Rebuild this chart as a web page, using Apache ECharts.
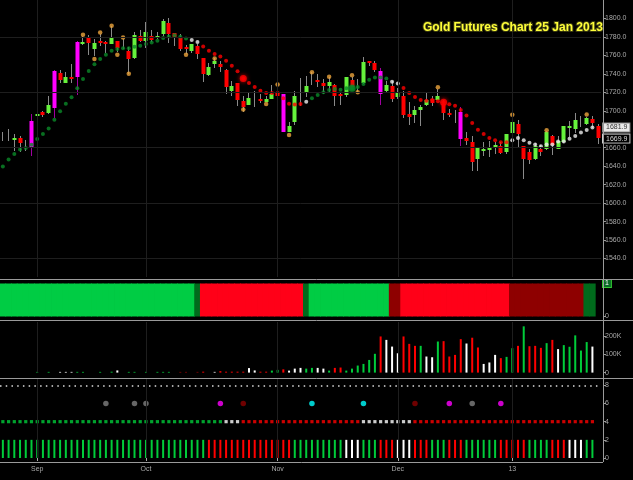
<!DOCTYPE html>
<html><head><meta charset="utf-8">
<script src="https://cdn.jsdelivr.net/npm/echarts@6/dist/echarts.min.js"></script>
<style>html,body{margin:0;padding:0;background:#000}#c{width:633px;height:480px}</style>
</head><body><div id="c"></div>
<script>
// ---------- DATA ----------
const monthTickIndex = [6, 25, 48, 69, 89];
const monthTickLabel = ['Sep', 'Oct', 'Nov', 'Dec', '13'];

const priceOpen = [1672,1673,1670.5,1670.6,1662,1660,1696.5,1699,1697.6,1702.7,
1741,1731,1737,1736,1774.5,1780,1767,1775.5,1774.5,1772.3,
1776,1771,1765,1757,1781.3,1775,1781.3,1778.7,1783.6,1794.6,
1783.8,1779.5,1768.6,1764.3,1770.5,1756.8,1738.7,1751.4,1750.6,1744.1,
1721.4,1729.7,1710.3,1706.3,1715,1713,1709.2,1712.8,1720.7,1718.2,
1677.6,1688.3,1713,1719.3,1730,1733.7,1729.7,1727.2,1728,1717.8,
1716.4,1733.7,1727,1730,1753.5,1751.7,1743.4,1721.8,1727.2,1715.3,
1716.4,1696.6,1695.5,1700.9,1706.3,1712.8,1711.7,1707.4,1698,1700,
1699.1,1670.3,1666.7,1648,1657.8,1657.3,1659.5,1662.3,1655,1676.7,
1685.8,1662.3,1655.1,1647.2,1658.7,1658.7,1673.1,1659.5,1666,1682,
1680.4,1689,1685.8,1691.2,1683.2];
const priceHigh = [1677,1680,1675,1673,1668,1697,1703,1700,1716,1744,
1744.5,1741.6,1750.6,1776,1781.3,1782,1777.7,1783,1776,1791.4,
1776,1778,1768.7,1785,1787.8,1795.7,1787.8,1785.6,1799.3,1801,
1784.5,1783,1771,1772.5,1772,1756.8,1751.7,1757,1754,1745,
1732.6,1729.7,1716.4,1719.3,1721.8,1718.2,1716.4,1728,1725.4,1718.2,
1688.3,1721.8,1735,1738,1741.6,1740,1734.4,1736.2,1729,1719.3,
1736.2,1737,1734.4,1757.8,1753.5,1754.2,1746,1732.6,1732.6,1724.3,
1721,1709,1705.6,1706.7,1718.9,1716.4,1723.6,1711.7,1702,1701.3,
1703.8,1677.5,1673.1,1660.5,1666.7,1667.7,1666,1666,1675,1688.3,
1690.4,1662.3,1658.7,1664.9,1663.1,1678.6,1673.8,1673.1,1683.2,1689.4,
1697.6,1694.8,1693.7,1694.8,1685.8];
const priceLow = [1667,1667,1656,1655,1656,1651,1691,1693.7,1697,1692,
1729.7,1730,1730,1717,1771,1760.4,1759.6,1769.7,1763,1772,
1763.2,1767,1740,1756,1774,1767.6,1774.8,1777.7,1781,1773,
1770.5,1765,1761,1762.5,1756,1731,1738,1746,1741.6,1718.2,
1716.4,1705.6,1699.1,1706,1703.8,1708.1,1709,1712.8,1716.4,1676.7,
1677,1685,1705.6,1714.6,1728,1726.1,1718.2,1720,1705.6,1706.3,
1714.6,1726.5,1719.3,1729,1748.8,1742.3,1706.7,1719.3,1709.2,1712.8,
1692.3,1685,1686.8,1684,1705.6,1705.6,1711.7,1690,1693,1687,
1661.6,1662.5,1634.6,1634.6,1651.5,1649.7,1653.3,1653.3,1653.3,1676,
1660.5,1625.6,1642.5,1647,1651.5,1658,1652.2,1658.7,1665.2,1671.3,
1676,1682.2,1685,1681,1664.1];
const priceClose = [1672,1673,1671,1665,1662,1689,1697,1695.5,1706.7,1742.7,
1733.7,1737,1736.5,1774,1775,1773.3,1773,1775,1774,1779.5,
1768.7,1771,1756,1782,1775.9,1785,1776.6,1781.3,1797.5,1783.1,
1778.8,1766.9,1768.1,1772.3,1762.2,1739.9,1747.7,1754.2,1747,1726.1,
1727.2,1711.7,1703.8,1713.5,1715,1712.4,1712.8,1718.2,1716.4,1676.7,
1684,1716.4,1713,1727.2,1730,1733.4,1726.8,1731.5,1715.7,1717.5,
1736.2,1726.5,1727,1753.2,1753,1744.5,1718.2,1728.3,1712.8,1719.3,
1695.5,1693.7,1700.9,1704.5,1711.7,1708.1,1716.4,1697.3,1697.6,1700,
1669.5,1666.7,1645.4,1659.5,1658.3,1659.5,1663,1655.1,1675,1688.3,
1675,1648.6,1646.1,1661.6,1655.1,1676.7,1663.1,1667.7,1683.2,1684,
1690,1689,1691.9,1686.8,1669.9];
const wideRangeBars = [5, 9, 13, 49, 66, 80];

// trailing stop dots (g = green below, r = red above, w = white)
const stopValues = [1639.6,1647.2,1653.3,1658.0,1659.8,1663.1,1669.5,1675.0,1680.7,1690.4,
1699.5,1707.7,1714.6,1724.3,1734.4,1743.1,1750.5,1756.0,1760.6,1765.0,
1766.8,1767.8,1767.8,1769.5,1770.5,1772.3,1774.1,1775.9,1778.8,1780.6,
1781.7,1780.2,1778.4,1776.6,1774.4,1769.7,1765.0,1761.4,1758.9,1754.2,
1748.8,1742.7,1735.1,1730.1,1725.8,1721.8,1719.3,1719.3,1719.3,1713.5,
1707.7,1706.7,1707.4,1709.9,1713.5,1717.1,1720.0,1722.5,1723.6,1722.9,
1724.3,1724.3,1725.8,1729.0,1733.7,1736.2,1736.2,1735.1,1731.5,1729.7,
1724.7,1719.3,1714.9,1711.7,1711.0,1711.7,1710.3,1709.2,1707.0,1705.6,
1700.9,1694.8,1686.8,1679.6,1675.0,1670.6,1668.1,1666.0,1666.0,1668.1,
1670.6,1668.1,1665.3,1663.5,1661.7,1663.5,1663.5,1666.7,1666.7,1669.6,
1672.8,1676.4,1679.3,1681.9];
const stopStateRuns = [['g',33],['w',2],['r',18],['w',1],['g',14],['w',2],['r',19],['w',15]];
const bigStopIndex = [42, 61, 77];

// swing markers (orange)
const swingIndex = [14,16,17,19,20,21,22,32,37,42,46,48,50,54,57,61,62,76,89,95,102];
const swingValue = [1782.3,1756,1784.7,1792.1,1760.6,1779.5,1740,1760.8,1756.6,1701.4,1707.5,1728.5,1673.8,1741.8,1737,1738.4,1720.2,1725.4,1695.6,1679,1696];

// trend band panel
const bandRuns = [['G',34],['g',1],['R',18],['g',1],['G',14],['r',2],['R',19],['r',13],['g',2]];

// volume (thousands of contracts)
const volumeK = [0,0,0,0,0,0,4,0,4,0,
4,4,4,4,4,0,0,4,0,5,
12,0,4,4,0,4,0,4,4,4,
0,4,4,0,4,5,0,4,8,5,
5,5,5,25,12,5,5,11,15,18,
11,22,26,22,26,26,22,11,26,28,
11,22,39,48,70,104,200,181,144,107,
200,159,148,148,89,85,172,174,89,98,
185,161,193,139,48,56,98,80,87,135,
148,256,146,148,137,163,181,130,152,143,
206,122,169,144];
const volumeColor = 'gggggggggg'+'wwwggggggg'+'wggggggggg'+'gRRgRrgwrr'+'rrrwwrrggr'+
  'wwwggwwgrr'+'ggggggrwww'+'rrrgwwgrrr'+'rwrrwwwrgg'+'rgrrrgrwgg'+'gggw';

// bottom indicator panel
const thresholdLevel = 8;
const signalLevel = 6;
const stateLevel = 4;
const histLevel = 2;
const signalIndex = [18,23,25,38,42,54,63,72,78,82,87];
const signalColorName = ['gray','gray','gray','magenta','darkred','cyan','cyan','darkred','magenta','gray','magenta'];
const stateDotRuns = [['G',39],['W',3],['R',21],['W',9],['R',32]];
const histRuns = [['G',36],['R',15],['G',9],['W',3],['G',3],['R',3],['W',3],['R',3],['G',3],['R',3],['G',6],['R',5],['G',4],['R',3],['W',3],['G',2]];

// ---------- helpers ----------
const expand = runs => runs.reduce((a, [c, n]) => a.concat(Array(n).fill(c)), []);
const N = priceOpen.length;
const cats = priceOpen.map((_, i) => String(i));
const monthMap = {}; monthTickIndex.forEach((ix, k) => monthMap[ix] = monthTickLabel[k]);

const UP = '#66f23c', DOWN = '#ff0000', MAG = '#ff00ff', WICK = '#8a8a8a';
const stopColor = {g: '#0a8a28', r: '#ff0000', w: '#eeeeee'};
const bandColor = {G: '#00cc44', g: '#006b1c', R: '#ff0018', r: '#8e0000'};
const volColor = {g: '#00cc3a', r: '#ff0000', w: '#ffffff', R: '#8e0000'};
const sigColor = {gray: '#7f7f7f', magenta: '#ff00ff', darkred: '#8b0000', cyan: '#00ffff'};
const indColor = {G: '#00cc3a', R: '#ff0000', W: '#ffffff'};

const stopState = expand(stopStateRuns);
const bandState = expand(bandRuns);
const stateDots = expand(stateDotRuns);
const histState = expand(histRuns);

const candleData = priceOpen.map((o, i) => [i, o, priceClose[i], priceLow[i], priceHigh[i]]);

function renderCandle(params, api) {
  const i = api.value(0), o = api.value(1), c = api.value(2), l = api.value(3), h = api.value(4);
  const pO = api.coord([i, o]), pC = api.coord([i, c]), pL = api.coord([i, l]), pH = api.coord([i, h]);
  const x0 = Math.floor(pO[0]);
  const mag = wideRangeBars.indexOf(i) >= 0;
  let col = c > o ? UP : (c < o ? DOWN : null);
  if (mag) col = MAG;
  const ch = [{type: 'line', shape: {x1: x0 + 0.5, y1: Math.round(pH[1]), x2: x0 + 0.5, y2: Math.round(pL[1])},
    style: {stroke: mag ? '#a000a0' : WICK, lineWidth: 1}}];
  if (col) {
    let top = Math.round(Math.min(pO[1], pC[1]));
    let hh = Math.round(Math.abs(pO[1] - pC[1]));
    if (hh < 2) hh = 2;
    ch.push({type: 'rect', shape: {x: x0 - 1.5, y: top, width: 4, height: hh}, style: {fill: col}});
  }
  return {type: 'group', children: ch};
}

const gridL = -1, gridW = 602;
const axisLblColor = '#a8a8a8';
const baseX = k => ({type: 'category', gridIndex: k, data: cats, boundaryGap: true,
  axisLine: {show: false}, axisTick: {show: false}, axisLabel: {show: false}, splitLine: {show: false}});
const xAxes = [baseX(0), baseX(1), baseX(2), baseX(3)];
xAxes[3].offset = 4;
xAxes[3].axisTick = {show: true, interval: (i) => monthMap[i] !== undefined, alignWithLabel: true, length: 3, lineStyle: {color: '#aaa'}};
xAxes[3].axisLabel = {show: true, interval: (i) => monthMap[i] !== undefined, formatter: (v, i) => monthMap[i] || '',
  color: axisLblColor, fontSize: 7, margin: 4};

const yBase = (k, extra) => Object.assign({type: 'value', gridIndex: k, position: 'right', offset: 2,
  axisLine: {show: false}, axisTick: {show: true, length: 3, lineStyle: {color: '#999'}},
  splitLine: {show: false},
  axisLabel: {color: axisLblColor, fontSize: 7, margin: 2}}, extra);

const yAxes = [
  yBase(0, {min: 1520, max: 1820, interval: 20,
    axisLabel: {color: axisLblColor, fontSize: 7, margin: 2, showMinLabel: false, showMaxLabel: false, formatter: v => v.toFixed(1)}}),
  yBase(1, {min: 0, max: 1, interval: 1, axisLabel: {color: axisLblColor, fontSize: 7, margin: 2, formatter: v => v === 0 ? '0' : ''}}),
  yBase(2, {min: 0, max: 280000, interval: 100000,
    axisLabel: {color: axisLblColor, fontSize: 7, margin: 2, showMaxLabel: false, formatter: v => v === 0 ? '0' : (v / 1000) + 'K'}}),
  yBase(3, {min: 0, max: 8.7, interval: 2,
    axisLabel: {color: axisLblColor, fontSize: 7, margin: 2, showMaxLabel: false}})
];

const monthLines = (k) => ({type: 'scatter', xAxisIndex: k, yAxisIndex: k, data: [], z: 0, silent: true,
  markLine: {silent: true, symbol: 'none', animation: false, label: {show: false},
    lineStyle: {color: '#1e1e1e', width: 1, type: 'solid'},
    data: monthTickIndex.map(ix => ({xAxis: ix}))}});

const gridPriceLevels = [1780, 1720, 1660, 1600, 1540];
const lastClose = priceClose[N - 1];
const lastStop = stopValues[stopValues.length - 1];

const tagLine = {width: 1, color: 'rgba(0,0,0,0)'};

const series = [
  monthLines(0), monthLines(2), monthLines(3),
  {type: 'scatter', xAxisIndex: 0, yAxisIndex: 0, data: [], z: 0, silent: true,
    markLine: {silent: true, symbol: 'none', label: {show: false}, lineStyle: {color: '#1e1e1e', width: 1, type: 'solid'},
      data: gridPriceLevels.map(v => ({yAxis: v}))}},
  {type: 'custom', xAxisIndex: 0, yAxisIndex: 0, renderItem: renderCandle, data: candleData,
    encode: {x: 0, y: [1, 2, 3, 4]}, z: 2, clip: false},
  {type: 'scatter', xAxisIndex: 0, yAxisIndex: 0, z: 3, symbol: 'circle', symbolSize: 4,
    data: stopValues.map((v, i) => ({value: [i, v], itemStyle: {color: stopColor[stopState[i]]}}))},
  {type: 'scatter', xAxisIndex: 0, yAxisIndex: 0, z: 4, symbol: 'circle', symbolSize: 7,
    data: bigStopIndex.map(i => ({value: [i, stopValues[i]],
      itemStyle: {color: stopColor[stopState[i]], shadowBlur: 4, shadowColor: stopState[i] === 'g' ? '#0a8a28' : '#ff0000'}}))},
  {type: 'scatter', xAxisIndex: 0, yAxisIndex: 0, z: 4, symbol: 'circle', symbolSize: 4.5,
    itemStyle: {color: '#eda53c'},
    data: swingIndex.map((ix, k) => [ix, swingValue[k]])},
  {type: 'line', xAxisIndex: 0, yAxisIndex: 0, data: [], z: 6, silent: true,
    markLine: {silent: true, symbol: 'none', lineStyle: tagLine,
      data: [
        {yAxis: lastStop, lineStyle: tagLine, label: {show: true, position: 'end', distance: 2, formatter: lastStop.toFixed(1),
          backgroundColor: '#e8e8e8', color: '#333', borderColor: '#888', borderWidth: 1, padding: [1, 2, 0, 3], fontSize: 7}},
        {yAxis: lastClose, lineStyle: tagLine, label: {show: true, position: 'end', distance: 2, formatter: lastClose.toFixed(1),
          backgroundColor: '#000', color: '#ddd', borderColor: '#ccc', borderWidth: 1, padding: [1, 2, 0, 3], fontSize: 7}}
      ]}},
  // trend band
  {type: 'bar', xAxisIndex: 1, yAxisIndex: 1, barWidth: 6.5, barGap: '-100%', z: 2,
    data: bandState.map(s => ({value: 1, itemStyle: {color: bandColor[s]}})),
    markLine: {silent: true, symbol: 'none', lineStyle: tagLine,
      data: [{yAxis: 1, lineStyle: tagLine, label: {show: true, position: 'end', distance: 2, formatter: '1', color: '#fff',
        backgroundColor: '#0a6a26', borderColor: '#3c3', borderWidth: 1, padding: [0, 2, 0, 2], fontSize: 7}}]}},
  // volume
  {type: 'bar', xAxisIndex: 2, yAxisIndex: 2, barWidth: 2, z: 2,
    data: volumeK.map((v, i) => ({value: v * 1000, itemStyle: {color: volColor[volumeColor[i]]}}))},
  // bottom indicator
  {type: 'scatter', xAxisIndex: 3, yAxisIndex: 3, data: [], z: 1, silent: true,
    markLine: {silent: true, symbol: 'none', label: {show: false},
      lineStyle: {color: '#dddddd', width: 1.5, type: [1.5, 4.23]},
      data: [{yAxis: thresholdLevel}]}},
  {type: 'scatter', xAxisIndex: 3, yAxisIndex: 3, symbol: 'circle', symbolSize: 5.5, z: 3,
    data: signalIndex.map((ix, k) => ({value: [ix, signalLevel], itemStyle: {color: sigColor[signalColorName[k]]}}))},
  {type: 'scatter', xAxisIndex: 3, yAxisIndex: 3, symbol: 'rect', symbolSize: 3.2, z: 3,
    data: stateDots.map((s, i) => ({value: [i, stateLevel], itemStyle: {color: indColor[s]}}))},
  {type: 'bar', xAxisIndex: 3, yAxisIndex: 3, barWidth: 2, z: 2,
    data: histState.map(s => ({value: histLevel, itemStyle: {color: indColor[s]}}))}
];

const option = {
  backgroundColor: '#000',
  animation: false,
  textStyle: {fontFamily: 'Liberation Sans, Arial, sans-serif'},
  title: {text: 'Gold Futures Chart 25 Jan 2013', right: 23, top: 17,
    textStyle: {color: '#ffff3a', fontSize: 12, fontWeight: 'bold', fontFamily: 'Liberation Sans, Arial, sans-serif',
      textBorderColor: '#3a3a10', textBorderWidth: 2}},
  grid: [
    {left: gridL, width: gridW, top: -1, height: 278},
    {left: gridL, width: gridW, top: 283.5, height: 33},
    {left: gridL, width: gridW, top: 322, height: 50.6},
    {left: gridL, width: gridW, top: 379, height: 79}
  ],
  xAxis: xAxes,
  yAxis: yAxes,
  series: series,
  graphic: [
    {type: 'line', shape: {x1: 603.5, y1: 0, x2: 603.5, y2: 462}, style: {stroke: '#9a9a9a', lineWidth: 1}, z: 50},
    {type: 'line', shape: {x1: 0, y1: 279.5, x2: 633, y2: 279.5}, style: {stroke: '#9a9a9a', lineWidth: 1}, z: 50},
    {type: 'line', shape: {x1: 0, y1: 320.5, x2: 633, y2: 320.5}, style: {stroke: '#9a9a9a', lineWidth: 1}, z: 50},
    {type: 'line', shape: {x1: 0, y1: 378.5, x2: 633, y2: 378.5}, style: {stroke: '#9a9a9a', lineWidth: 1}, z: 50},
    {type: 'line', shape: {x1: 0, y1: 462.5, x2: 603, y2: 462.5}, style: {stroke: '#9a9a9a', lineWidth: 1}, z: 50}
  ]
};

const chart = echarts.init(document.getElementById('c'), null, {renderer: 'canvas'});
chart.setOption(option);
</script>
</body></html>
